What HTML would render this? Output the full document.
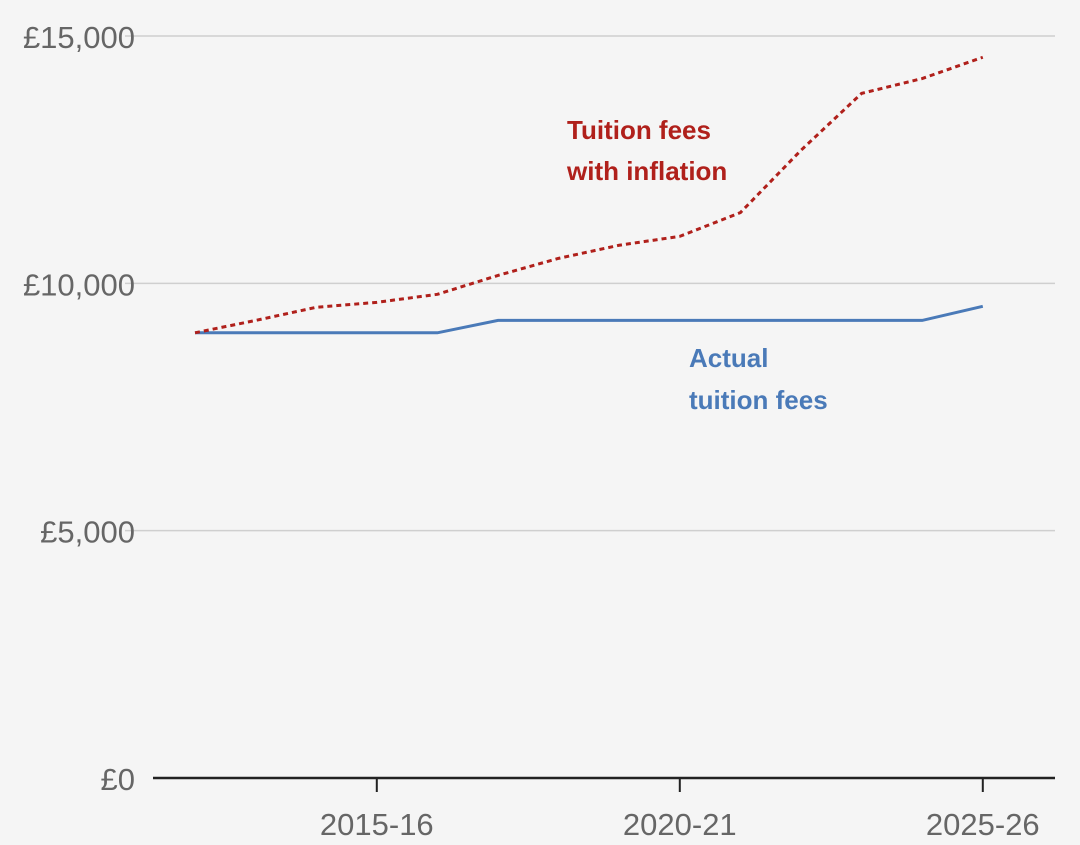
<!DOCTYPE html>
<html><head><meta charset="utf-8"><style>
html,body{margin:0;padding:0;background:#f5f5f5;}
svg{display:block;font-family:"Liberation Sans",sans-serif;}
</style></head><body>
<svg id="chart" width="1080" height="845" viewBox="0 0 1080 845">
<rect width="1080" height="845" fill="#f5f5f5"/>
<g id="grid"></g><g id="xaxis"></g><g id="series"></g>
<text x="567" y="139" fill="#b0201b" font-size="26" font-weight="bold">Tuition fees</text>
<text x="567" y="180" fill="#b0201b" font-size="26" font-weight="bold">with inflation</text>
<text x="689" y="367" fill="#4a7ab8" font-size="26" font-weight="bold">Actual</text>
<text x="689" y="409" fill="#4a7ab8" font-size="26" font-weight="bold">tuition fees</text>
</svg>
<script>
const years = ["2012-13","2013-14","2014-15","2015-16","2016-17","2017-18","2018-19","2019-20","2020-21","2021-22","2022-23","2023-24","2024-25","2025-26"];
const actualFees = [9000,9000,9000,9000,9000,9250,9250,9250,9250,9250,9250,9250,9250,9535];
const inflationFees = [9000,9250,9515,9616,9778,10160,10505,10770,10950,11430,12690,13840,14140,14570];
const yTicks = [0,5000,10000,15000];
const yTickLabels = ["£0","£5,000","£10,000","£15,000"];
const xTickLabels = ["2015-16","2020-21","2025-26"];

const NS="http://www.w3.org/2000/svg";
const x0=195, dx=60.6;
function xScale(i){return x0+i*dx;}
function yScale(v){return 778-v*(742/15000);}
function mk(tag,attrs,parent){const e=document.createElementNS(NS,tag);for(const k in attrs)e.setAttribute(k,attrs[k]);parent.appendChild(e);return e;}
const grid=document.getElementById('grid'),xa=document.getElementById('xaxis'),ser=document.getElementById('series');
yTicks.forEach((t,i)=>{
  const y=yScale(t);
  if(t!==0){const l=mk('line',{x1:125,x2:1055,y1:y,y2:y,stroke:'#cfcfcf','stroke-width':1.5},grid);
  
  }
  const tx=mk('text',{x:135,y:y+12,'text-anchor':'end','font-size':31,fill:'#666'},grid);
  tx.textContent=yTickLabels[i];
  
  
});
const base=mk('line',{x1:153,x2:1055,y1:yScale(0),y2:yScale(0),stroke:'#222','stroke-width':2.5},xa);


xTickLabels.forEach(lbl=>{
  const i=years.indexOf(lbl),x=xScale(i);
  const t=mk('line',{x1:x,x2:x,y1:779,y2:792,stroke:'#222','stroke-width':2},xa);
  
  
  const tx=mk('text',{x:x,y:835,'text-anchor':'middle','font-size':31,fill:'#666'},xa);
  tx.textContent=lbl;
  
  
});
function pts(arr){return arr.map((v,i)=>xScale(i)+','+yScale(v)).join(' ');}
const a=mk('polyline',{points:pts(actualFees),fill:'none',stroke:'#4a7ab8','stroke-width':3},ser);


const r=mk('polyline',{points:pts(inflationFees),fill:'none',stroke:'#b0201b','stroke-width':3,'stroke-dasharray':'5 4'},ser);


</script>
</body></html>
